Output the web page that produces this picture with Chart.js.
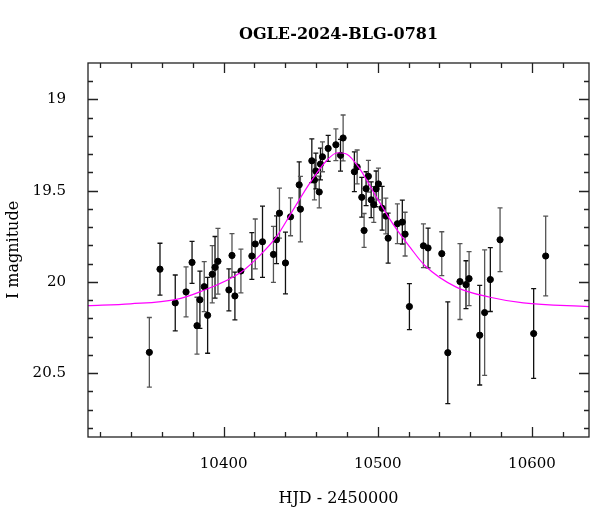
<!DOCTYPE html>
<html>
<head>
<meta charset="utf-8">
<script src="https://cdn.jsdelivr.net/npm/chart.js@4/dist/chart.umd.min.js"></script>
<style>
  body { margin: 0; background: #fff; }
  #wrap { width: 600px; height: 512px; }
</style>
</head>
<body>
<div id="wrap"><canvas id="lc"></canvas></div>
<script>
// -- Data --
const hjd = [10358.7, 10351.8, 10368.6, 10375.6, 10379.5, 10382.7, 10384.6, 10387.4, 10389.6, 10392.6,
  10394.4, 10396.3, 10403.4, 10405.4, 10407.3, 10411.2, 10418.3, 10420.5, 10425.2, 10432.3,
  10434.3, 10436.2, 10440.1, 10443.4, 10449.0, 10449.8, 10457.2, 10458.9, 10459.8, 10462.0,
  10462.8, 10464.1, 10467.8, 10472.8, 10475.8, 10477.5, 10484.8, 10486.6, 10489.6, 10491.1,
  10492.4, 10493.9, 10495.7, 10497.4, 10498.9, 10500.4, 10502.8, 10505.2, 10506.7, 10512.7,
  10515.9, 10517.7, 10520.5, 10529.6, 10532.6, 10541.5, 10545.4, 10553.3, 10557.2, 10559.2,
  10566.1, 10569.3, 10573.0, 10579.3, 10601.1, 10608.9];
const mag = [19.93, 20.386, 20.115, 20.055, 19.893, 20.24, 20.098, 20.026, 20.183, 19.958,
  19.92, 19.887, 20.044, 19.855, 20.077, 19.94, 19.858, 19.792, 19.78, 19.849,
  19.769, 19.623, 19.896, 19.643, 19.468, 19.601, 19.336, 19.441, 19.392, 19.507,
  19.354, 19.314, 19.268, 19.248, 19.306, 19.211, 19.396, 19.37, 19.536, 19.718,
  19.489, 19.421, 19.55, 19.576, 19.49, 19.463, 19.596, 19.639, 19.76, 19.681,
  19.672, 19.738, 20.135, 19.802, 19.814, 19.845, 20.388, 19.998, 20.015, 19.982,
  20.292, 20.168, 19.987, 19.769, 20.283, 19.858];
const magErr = [0.142, 0.191, 0.153, 0.137, 0.115, 0.156, 0.157, 0.137, 0.208, 0.157,
  0.169, 0.18, 0.115, 0.12, 0.131, 0.12, 0.128, 0.137, 0.195, 0.153,
  0.131, 0.137, 0.169, 0.104, 0.126, 0.18, 0.12, 0.109, 0.098, 0.087,
  0.087, 0.082, 0.071, 0.087, 0.087, 0.126, 0.109, 0.093, 0.109, 0.093,
  0.093, 0.087, 0.098, 0.098, 0.098, 0.087, 0.12, 0.098, 0.137, 0.109,
  0.12, 0.12, 0.126, 0.12, 0.109, 0.12, 0.279, 0.208, 0.131, 0.148,
  0.273, 0.344, 0.175, 0.175, 0.246, 0.219];

// model curve, sampled by eye
const modelT = [10312, 10339.5, 10368.6, 10385, 10411, 10423.7, 10434.3, 10444, 10456.1, 10467,
  10473.8, 10479.9, 10488.5, 10499.3, 10510.1, 10521, 10530.5, 10551.2, 10572.8, 10594.4, 10637];
const modelMag = [20.13, 20.12, 20.097, 20.053, 19.948, 19.853, 19.752, 19.62, 19.456, 19.333,
  19.292, 19.30, 19.383, 19.538, 19.686, 19.811, 19.91, 20.03, 20.084, 20.115, 20.135];

const xTicks = [10400, 10500, 10600];
const yTicks = [19, 19.5, 20, 20.5];
const titleText = 'OGLE-2024-BLG-0781';

const FONT = 'DejaVu Serif';

// -- Frame, inward ticks, error bars, title --
const framePlugin = {
  id: 'frame',
  beforeDatasetsDraw(chart) {
    const { ctx } = chart;
    const y = chart.scales.y;
    const x = chart.scales.x;
    ctx.save();
    ctx.lineWidth = 1.3;
    hjd.forEach((t, i) => {
      const px = x.getPixelForValue(t);
      const top = y.getPixelForValue(mag[i] - magErr[i]);
      const bot = y.getPixelForValue(mag[i] + magErr[i]);
      ctx.strokeStyle = i % 2 ? '#555' : '#111';
      ctx.beginPath();
      ctx.moveTo(px, top); ctx.lineTo(px, bot);
      ctx.moveTo(px - 2.5, top); ctx.lineTo(px + 2.5, top);
      ctx.moveTo(px - 2.5, bot); ctx.lineTo(px + 2.5, bot);
      ctx.stroke();
    });
    ctx.restore();
  },
  afterDraw(chart) {
    const { ctx, chartArea: a } = chart;
    const x = chart.scales.x, y = chart.scales.y;
    ctx.save();
    ctx.strokeStyle = '#222';
    ctx.lineWidth = 1.3;
    ctx.strokeRect(a.left, a.top, a.right - a.left, a.bottom - a.top);
    ctx.beginPath();
    for (let t = 10320; t <= 10636; t += 20) {
      const px = Math.round(x.getPixelForValue(t)) + 0.5;
      const len = t % 100 === 0 ? 10 : 5;
      ctx.moveTo(px, a.bottom); ctx.lineTo(px, a.bottom - len);
      ctx.moveTo(px, a.top); ctx.lineTo(px, a.top + len);
    }
    for (let k = 189; k <= 208; k++) {
      const m = k / 10;
      const py = Math.round(y.getPixelForValue(m)) + 0.5;
      const len = k % 5 === 0 ? 10 : 5;
      ctx.moveTo(a.left, py); ctx.lineTo(a.left + len, py);
      ctx.moveTo(a.right, py); ctx.lineTo(a.right - len, py);
    }
    ctx.stroke();
    ctx.fillStyle = '#000';
    ctx.font = '600 16px "' + FONT + '"';
    ctx.textAlign = 'center';
    ctx.textBaseline = 'middle';
    ctx.fillText(titleText, (a.left + a.right) / 2, 35);
    ctx.restore();
  }
};

new Chart(document.getElementById('lc'), {
  data: {
    datasets: [
      {
        type: 'line',
        data: modelT.map((t, i) => ({ x: t, y: modelMag[i] })),
        borderColor: '#ff00ff',
        borderWidth: 1.2,
        pointRadius: 0,
        tension: 0.4,
        cubicInterpolationMode: 'monotone'
      },
      {
        type: 'scatter',
        data: hjd.map((t, i) => ({ x: t, y: mag[i] })),
        backgroundColor: '#000',
        borderColor: '#000',
        pointRadius: 3.1
      }
    ]
  },
  options: {
    responsive: true,
    maintainAspectRatio: false,
    animation: false,
    layout: { padding: { top: 63, right: 11, left: 0, bottom: 0 } },
    plugins: { legend: { display: false }, tooltip: { enabled: false } },
    scales: {
      x: {
        type: 'linear',
        min: 10312,
        max: 10637,
        afterBuildTicks: s => { s.ticks = xTicks.map(v => ({ value: v })); },
        afterFit: s => { s.height = 75; },
        grid: { display: false },
        border: { display: false },
        ticks: { color: '#000', font: { family: FONT, size: 15, weight: '500' }, padding: 10, maxRotation: 0,
          callback: v => String(v) },
        title: { display: true, text: 'HJD - 2450000', color: '#000', font: { family: FONT, size: 16, weight: '500' }, padding: { top: 2 } }
      },
      y: {
        type: 'linear',
        reverse: true,
        min: 18.8,
        max: 20.85,
        afterBuildTicks: s => { s.ticks = yTicks.map(v => ({ value: v })); },
        afterFit: s => { s.width = 88; },
        grid: { display: false },
        border: { display: false },
        ticks: { color: '#000', font: { family: FONT, size: 15, weight: '500' }, padding: 14,
          callback: v => String(v) },
        title: { display: true, text: 'I magnitude', color: '#000', font: { family: FONT, size: 16, weight: '500' }, padding: { bottom: 4 } }
      }
    }
  },
  plugins: [framePlugin]
});
</script>
</body>
</html>
